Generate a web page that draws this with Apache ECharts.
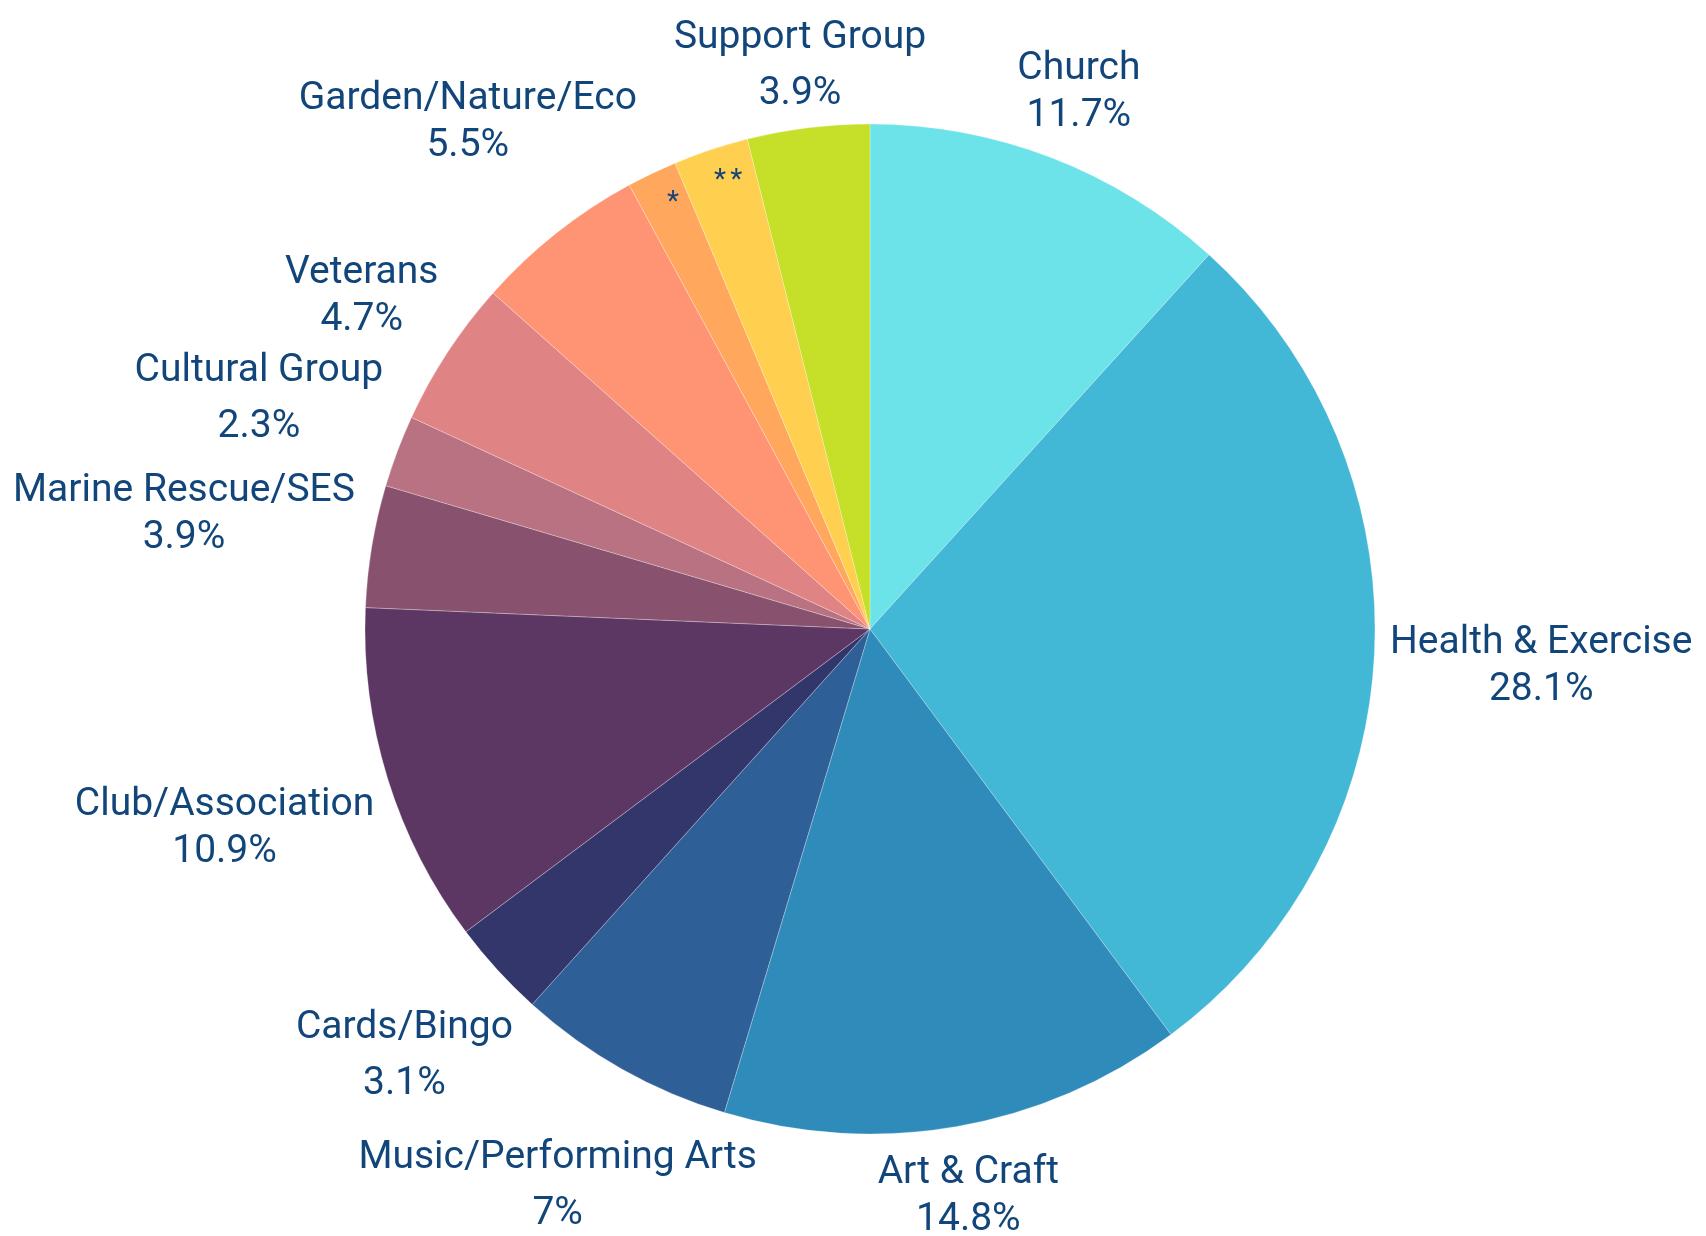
<!DOCTYPE html>
<html>
<head>
<meta charset="utf-8">
<script src="https://cdn.jsdelivr.net/npm/echarts@6/dist/echarts.min.js"></script>
<style>
  html, body { margin: 0; padding: 0; background: #ffffff; }
  #chart { width: 1706px; height: 1236px; }
</style>
</head>
<body>
<div id="chart"></div>
<script>
// Activity types, clockwise from twelve o'clock
const categories = [
  'Church', 'Health & Exercise', 'Art & Craft', 'Music/Performing Arts',
  'Cards/Bingo', 'Club/Association', 'Marine Rescue/SES', 'Cultural Group',
  'Veterans', 'Garden/Nature/Eco', '*', '**', 'Support Group'
];
// Share of respondents, percent
const shares = [11.7, 28.1, 14.8, 7, 3.1, 10.9, 3.9, 2.3, 4.7, 5.5, 1.6, 2.4, 3.9];

const palette = [
  '#6CE3E8', '#43B7D6', '#2E8BBA', '#2F5F97', '#32366B', '#5D3763', '#88526F',
  '#B87282', '#E08384', '#FF9474', '#FFA75D', '#FFCF4F', '#C6DF28'
];

// Slices too narrow for an outside label carry a marker inside instead
const innerMarkers = ['*', '**'];
// Labels set with a looser line gap
const looseLabels = ['Support Group', 'Cultural Group', 'Cards/Bingo', 'Music/Performing Arts'];

const CX = 870, CY = 629, R = 505, GAP = 15, TEXT_DROP = 5;
const TEXT = '#12467A';

const total = shares.reduce((a, b) => a + b, 0);

// Put each label on its slice's bisector, just clear of the rim
function placeLabel(p) {
  const i = p.dataIndex;
  let before = 0;
  for (let j = 0; j < i; j++) before += shares[j];
  const mid = (before + shares[i] / 2) / total * Math.PI * 2;
  const ux = Math.sin(mid), uy = -Math.cos(mid);
  const w = p.labelRect.width, h = p.labelRect.height;
  if (innerMarkers.includes(categories[i])) {
    const d = R * 0.935;
    return { x: CX + d * ux + 7, y: CY + d * uy, align: 'center', verticalAlign: 'middle' };
  }
  const target = R + GAP;
  let lo = 0, hi = R + 1200;
  for (let k = 0; k < 60; k++) {
    const m = (lo + hi) / 2;
    const nx = Math.max(0, Math.abs(m * ux) - w / 2);
    const ny = Math.max(0, Math.abs(m * uy) - h / 2);
    if (Math.hypot(nx, ny) < target) lo = m; else hi = m;
  }
  // right-hand labels sit a touch lower than those on the left
  const drop = ux < 0 ? TEXT_DROP * (1 - Math.abs(ux)) : TEXT_DROP;
  return { x: CX + hi * ux, y: CY + hi * uy + drop, align: 'center', verticalAlign: 'middle' };
}

const chart = echarts.init(document.getElementById('chart'), null, { renderer: 'canvas' });

chart.setOption({
  backgroundColor: '#ffffff',
  animation: false,
  series: [{
    type: 'pie',
    center: [CX, CY],
    radius: R,
    startAngle: 90,
    clockwise: true,
    avoidLabelOverlap: false,
    bleedMargin: 0,
    data: categories.map((name, i) => ({
      name: name,
      value: shares[i],
      itemStyle: { color: palette[i] }
    })),
    itemStyle: { borderColor: 'rgba(255,255,255,0.45)', borderWidth: 0.6 },
    labelLine: { show: false, length: 0, length2: 0 },
    label: {
      show: true,
      position: 'outside',
      fontFamily: 'Roboto',
      color: TEXT,
      formatter: (p) => {
        if (innerMarkers.includes(p.name)) {
          return p.name.split('').map((c) => '{m|' + c + '}').join('');
        }
        const s = looseLabels.includes(p.name) ? 'w' : 'n';
        return '{' + s + '|' + p.name + '}\n{' + s + '|' + p.value + '%}';
      },
      rich: {
        n: { fontFamily: 'Roboto', fontSize: 39, lineHeight: 47, color: TEXT },
        w: { fontFamily: 'Roboto', fontSize: 39, lineHeight: 56, color: TEXT },
        m: { fontFamily: 'Roboto', fontSize: 28, lineHeight: 30, padding: [0, 2, 0, 2], color: TEXT }
      }
    },
    labelLayout: placeLabel,
    emphasis: { disabled: true }
  }]
});
</script>
</body>
</html>
